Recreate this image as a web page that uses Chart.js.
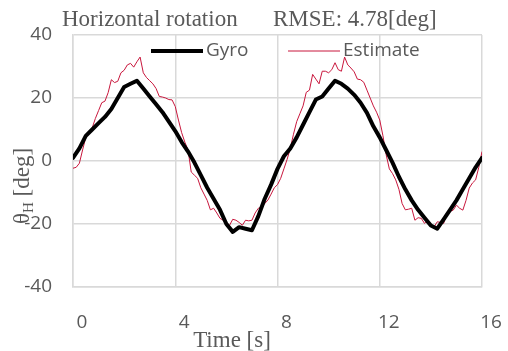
<!DOCTYPE html>
<html>
<head>
<meta charset="utf-8">
<script src="https://cdn.jsdelivr.net/npm/chart.js@4"></script>
<style>
  html, body { margin: 0; padding: 0; background: #fff; }
  #wrap { width: 508px; height: 351px; }
</style>
</head>
<body>
<div id="wrap"><canvas id="rotChart" width="508" height="351"></canvas></div>
<script>
// sample spacing of the two series (s)
const gyroStep = 0.25;
const estStep = 0.125;

const gyroValues = [
  1, 4, 8, 10, 12, 14, 16.5, 20, 23.5, 24.5, 25.5, 23, 20.5, 18, 15.5, 12.5,
  9.5, 6, 3, -0.5, -4.5, -8.5, -12, -15.5, -20, -22.5, -21, -21.5, -22, -17.5, -12, -7.5,
  -2.5, 1.5, 4, 7.5, 11.5, 15.5, 19.5, 20.5, 23, 25.5, 24.5, 23, 21, 18.5, 15.3, 11,
  7.5, 3.5, -0.5, -5, -9, -12.5, -15.5, -18, -20.5, -21.5, -18.5, -15.5, -12.5, -9, -5.5, -2,
  1
];

const estimateValues = [
  -2.3, -2, -0.7, 3.5, 7.5, 8.5, 10.5, 13.5, 16, 18.5, 19, 21.7, 25.8, 24.9, 25.3, 28,
  28.8, 30.5, 31, 29.8, 31.5, 33, 28, 26.5, 25.5, 24.5, 23, 20.5, 20.3, 20, 19.5, 19.4,
  17.3, 13, 9, 6, 3.5, -3.5, -4.5, -5.5, -8.5, -10.5, -12.5, -15.5, -15, -16.5, -18.2, -18.8,
  -19.5, -20.4, -18.5, -18.8, -19.5, -20.4, -18.8, -19, -18.8, -16.5, -15, -14.6, -13.5, -12.4, -10.5, -8.5,
  -7.5, -5.5, -2.5, 0.5, 4, 8.5, 12.5, 15, 17.5, 21.8, 22.5, 27.5, 26, 24.5, 28.5, 28.5,
  28, 29, 31.2, 29, 28.5, 33, 30.5, 29.5, 28.3, 26, 25.8, 25, 22.5, 20, 17.5, 15.5,
  13, 8, 2, -2.5, -4, -6, -9, -13.5, -15.5, -15.3, -15, -18.8, -18, -18.2, -19.8, -18.8,
  -20, -20.9, -19.3, -19.5, -19.8, -16.6, -16, -15.6, -14, -15, -15.6, -12.5, -8.6, -7, -6, -2,
  3
];

const xTicks = [0, 4, 8, 12, 16];
const yTicks = [-40, -20, 0, 20, 40];

const gray = "#595959";
const gridGray = "#d9d9d9";
const sansFont = "'Open Sans', sans-serif";
const serifFont = "'Liberation Serif', serif";

function toPoints(values, step) {
  return values.map((v, i) => ({ x: i * step, y: v }));
}

// titles, axis names and legend drawn on top of the chart area
const labelsPlugin = {
  id: "labelsPlugin",
  afterDraw(chart) {
    const ctx = chart.ctx;
    const area = chart.chartArea;
    ctx.save();
    ctx.fillStyle = gray;
    ctx.textBaseline = "alphabetic";

    // title
    ctx.font = "23px " + serifFont;
    ctx.textAlign = "left";
    ctx.fillText("Horizontal rotation", area.left - 11, area.top - 9);
    ctx.fillText("RMSE: 4.78[deg]", area.left + 200, area.top - 9);

    // x title
    ctx.textAlign = "center";
    ctx.fillText("Time [s]", area.left + 159, chart.height - 4);

    // y title with subscript
    ctx.save();
    ctx.translate(29, (area.top + area.bottom) / 2 + 21);
    ctx.rotate(-Math.PI / 2);
    ctx.textAlign = "left";
    ctx.font = "23px " + serifFont;
    ctx.fillText("θ", -42, 0);
    let w = ctx.measureText("θ").width;
    ctx.font = "15px " + serifFont;
    ctx.fillText("H", -42 + w, 4);
    w += ctx.measureText("H").width;
    ctx.font = "23px " + serifFont;
    ctx.fillText(" [deg]", -42 + w, 0);
    ctx.restore();

    // legend
    const ly = area.top + 16;
    chart.data.datasets.forEach((ds, i) => {
      const x0 = i === 0 ? area.left + 78 : area.left + 215;
      ctx.strokeStyle = ds.borderColor;
      ctx.lineWidth = ds.borderWidth;
      ctx.beginPath();
      ctx.moveTo(x0, ly);
      ctx.lineTo(x0 + 52, ly);
      ctx.stroke();
      ctx.fillStyle = gray;
      ctx.font = "19px " + sansFont;
      ctx.textAlign = "left";
      ctx.textBaseline = "middle";
      ctx.fillText(ds.label, x0 + 55, ly);
    });
    ctx.restore();
  }
};

const chart = new Chart(document.getElementById("rotChart"), {
  type: "line",
  data: {
    datasets: [
      {
        label: "Gyro",
        data: toPoints(gyroValues, gyroStep),
        borderColor: "#000000",
        borderWidth: 4,
        borderJoinStyle: "round",
        borderCapStyle: "round",
        pointRadius: 0,
        tension: 0
      },
      {
        label: "Estimate",
        data: toPoints(estimateValues, estStep),
        borderColor: "#c8163c",
        borderWidth: 1,
        pointRadius: 0,
        tension: 0
      }
    ]
  },
  options: {
    responsive: false,
    animation: false,
    layout: { padding: { top: 35, right: 26, left: 0, bottom: 0 } },
    plugins: {
      legend: { display: false },
      title: { display: false },
      tooltip: { enabled: false }
    },
    scales: {
      x: {
        type: "linear",
        min: 0,
        max: 16,
        afterBuildTicks: (s) => { s.ticks = xTicks.map(v => ({ value: v })); },
        afterFit: (s) => {
          s.height = 64;
          s.paddingLeft = 0;
          s.paddingRight = 0;
        },
        grid: { color: gridGray, lineWidth: 1.5, drawTicks: false },
        border: { color: gridGray, width: 1.5 },
        ticks: {
          color: gray,
          font: { family: sansFont, size: 19 },
          padding: 24,
          labelOffset: 9,
          maxRotation: 0
        }
      },
      y: {
        min: -40,
        max: 40,
        afterBuildTicks: (s) => { s.ticks = yTicks.map(v => ({ value: v })); },
        afterFit: (s) => {
          s.width = 73;
          s.paddingTop = 0;
          s.paddingBottom = 0;
        },
        grid: { color: gridGray, lineWidth: 1.5, drawTicks: false },
        border: { color: gridGray, width: 1.5 },
        ticks: {
          color: gray,
          font: { family: sansFont, size: 19 },
          padding: 21
        }
      }
    }
  },
  plugins: [labelsPlugin]
});
</script>
</body>
</html>
